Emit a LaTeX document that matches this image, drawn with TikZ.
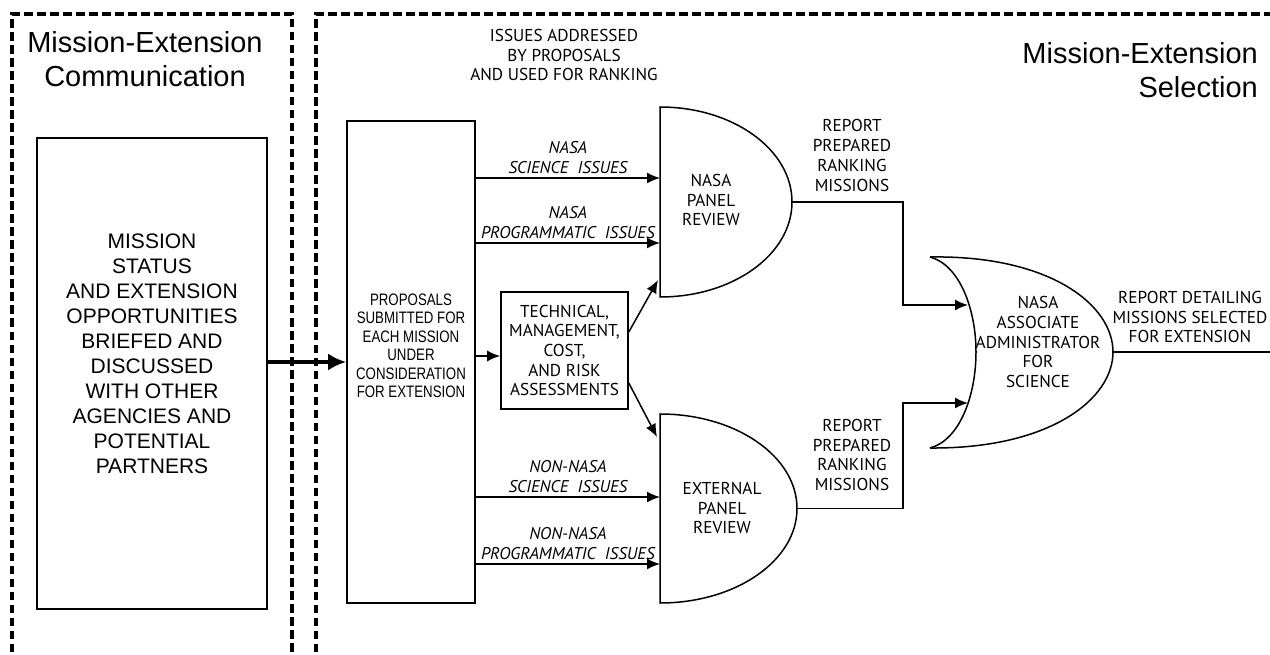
\documentclass[tikz,border=0pt]{standalone}
\usepackage{fontspec}
\usetikzlibrary{arrows.meta}
\newfontfamily\arialf{Liberation Sans}
\newfontfamily\narrowf[FakeStretch=0.8]{Liberation Sans}
\newfontfamily\humf{PT Sans}
\begin{document}
\begin{tikzpicture}[x=1pt,y=-1pt,
  box/.style={draw, line width=1.6pt, inner sep=0pt},
  hum/.style={font=\humf\fontsize{17.2}{19.7}\selectfont, align=center, inner sep=0pt},
  humit/.style={font=\humf\itshape\fontsize{17}{19.7}\selectfont, align=center, inner sep=0pt},
  big/.style={font=\arialf\fontsize{29}{33.5}\selectfont, inner sep=0pt},
  conn/.style={line width=1.5pt},
  arr/.style={conn, -{Latex[length=13pt,width=11pt]}},
  dashbox/.style={line width=3.4pt, dash pattern=on 8.5pt off 4.5pt},
]
\useasboundingbox (0,0) rectangle (1270,655);
% dashed regions
\draw[dashbox] (12,665) -- (12,14) -- (292,14) -- (292,665);
\draw[dashbox] (316,665) -- (316,14) -- (1280,14);
% titles
\node[big, align=center] (tcomm) at (145,59) {Mission-Extension\\Communication};
\node[big, align=right, anchor=east] (tsel) at (1258,70) {Mission-Extension\\Selection};
% left box
\node[box, minimum width=230pt, minimum height=471pt] (status) at (152,373.5) {};
\node[font=\arialf\fontsize{21}{25}\selectfont, align=center, inner sep=0pt] (statustxt) at (152,354)
  {MISSION\\STATUS\\AND EXTENSION\\OPPORTUNITIES\\BRIEFED AND\\DISCUSSED\\WITH OTHER\\AGENCIES AND\\POTENTIAL\\PARTNERS};
% proposals box
\node[box, minimum width=128pt, minimum height=482pt] (props) at (411,362) {};
\node[font=\narrowf\fontsize{16.6}{18.5}\selectfont, align=center, inner sep=0pt] (propstxt) at (411,346)
  {PROPOSALS\\SUBMITTED FOR\\EACH MISSION\\UNDER\\CONSIDERATION\\FOR EXTENSION};
\draw[line width=3.5pt, -{Latex[length=18pt,width=17pt]}] (status.east |- props.west) -- (props.west);
% issues header
\node[hum] (issues) at (564,55) {ISSUES ADDRESSED\\BY PROPOSALS\\AND USED FOR RANKING};
% technical box
\node[box, hum, minimum width=127pt, minimum height=117pt] (tech) at (564.5,350.5)
  {TECHNICAL,\\MANAGEMENT,\\COST,\\AND RISK\\ASSESSMENTS};
\draw[arr] (props.east |- 0,356) -- (tech.west |- 0,356);
% NASA panel
\draw[conn] (660,107) .. controls (733,107) and (792,149.5) .. (792,202)
  .. controls (792,254.5) and (733,297) .. (660,297) -- cycle;
\coordinate (npW) at (660,202);
\coordinate (npE) at (792,202);
\coordinate (npIn) at (658,280);
\node[hum] (nasapanel) at (711,200) {NASA\\PANEL\\REVIEW};
% External panel
\draw[conn] (660,414) .. controls (735.7,414) and (797,456.3) .. (797,508.5)
  .. controls (797,560.7) and (735.7,603) .. (660,603) -- cycle;
\coordinate (epW) at (660,508);
\coordinate (epE) at (797,508.5);
\coordinate (epIn) at (657,437);
\node[hum] (extpanel) at (722,508) {EXTERNAL\\PANEL\\REVIEW};
% issue arrows
\draw[arr] (props.east |- 0,178) -- (npW |- 0,178) node[midway, above=4pt, humit] {NASA\\SCIENCE\ \ ISSUES};
\draw[arr] (props.east |- 0,243) -- (npW |- 0,243) node[midway, above=4pt, humit] {NASA\\PROGRAMMATIC\ \ ISSUES};
\draw[arr] (props.east |- 0,497) -- (epW |- 0,497) node[midway, above=4pt, humit] {NON-NASA\\SCIENCE\ \ ISSUES};
\draw[arr] (props.east |- 0,564) -- (epW |- 0,564) node[midway, above=4pt, humit] {NON-NASA\\PROGRAMMATIC\ \ ISSUES};
% technical to panels
\draw[arr] (tech.east |- 0,332) -- (npIn);
\draw[arr] (tech.east |- 0,383) -- (epIn);
% associate administrator
\draw[conn] (930,257) .. controls (1050,255) and (1113,305) .. (1113,352)
  .. controls (1113,399) and (1050,449) .. (930,448);
\draw[conn] (930,257) .. controls (960,265) and (976,310) .. (976,352)
  .. controls (976,395) and (960,440) .. (930,448);
\coordinate (aaIn1) at (968,305);
\coordinate (aaIn2) at (968,403);
\coordinate (aaTip) at (1113,352);
\coordinate (outEnd) at (1270,352);
\node[hum] (aa) at (1038,342) {NASA\\ASSOCIATE\\ADMINISTRATOR\\FOR\\SCIENCE};
% reports
\draw[arr] (npE) -- (903,202) |- (aaIn1);
\draw[arr] (epE) -- (903,508.5) |- (aaIn2);
\node[hum] (rep1) at (852,155.5) {REPORT\\PREPARED\\RANKING\\MISSIONS};
\node[hum] (rep2) at (852,455) {REPORT\\PREPARED\\RANKING\\MISSIONS};
\draw[conn] (aaTip) -- (outEnd);
\node[hum] (final) at (1190,317) {REPORT DETAILING\\MISSIONS SELECTED\\FOR EXTENSION};
\end{tikzpicture}
\end{document}
